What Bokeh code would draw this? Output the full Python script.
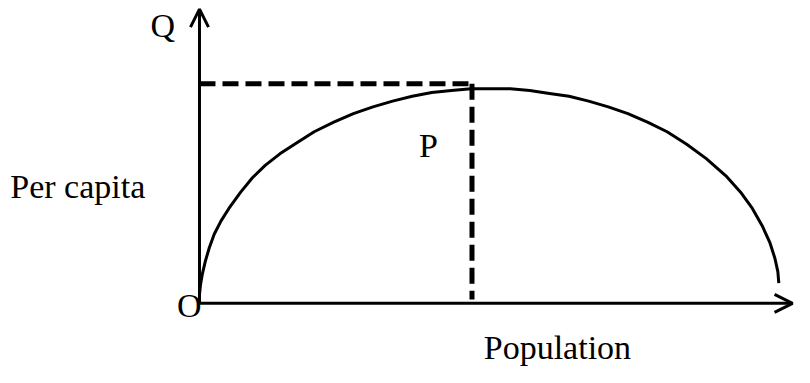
from bokeh.plotting import figure
from bokeh.models import Range1d, Arrow, OpenHead, ColumnDataSource
from bokeh.core.properties import value
from bokeh.embed import file_html
from bokeh.resources import INLINE

# Curve: per capita output vs population (arbitrary units)
population = [0, 1, 3, 6, 10, 15, 22, 30, 42, 54, 67, 82, 97, 117, 137, 157, 177,
              197, 217, 237, 257, 277, 297, 317, 337, 357, 377, 397, 417, 437, 457,
              477, 497, 517, 537, 552, 564, 574, 582, 587, 590, 591]
per_capita = [9, 19, 31, 44, 58, 72, 86, 99, 116, 131, 144, 156, 166, 179, 189, 198,
              205, 211, 216, 220, 222, 224, 224, 224, 222, 219, 216, 211, 205, 198,
              189, 179, 166, 151, 133, 116, 99, 81, 63, 47, 33, 21]

# Optimum point P
optimum_population = 278
max_per_capita = 229
dashed_floor = 4

# Axis extents
x_axis_end = 605
y_axis_end = 307

# Labels
label_text = ["Q", "O", "P", "Per capita", "Population"]
label_x = [-50, -23, 224, -193, 290]
label_y = [290, -2, 165, 122, -46]

p = figure(width=794, height=367, output_backend="svg", toolbar_location=None,
           x_range=Range1d(-203, 607), y_range=Range1d(-67, 316),
           x_axis_type=None, y_axis_type=None, min_border=0)
p.grid.visible = False
p.outline_line_color = None
p.background_fill_color = "white"
p.border_fill_color = "white"

# Axes with open arrowheads
p.add_layout(Arrow(end=OpenHead(size=18, line_width=3, line_color="black"),
                   x_start=0, y_start=0, x_end=x_axis_end, y_end=0,
                   line_width=3, line_color="black"))
p.add_layout(Arrow(end=OpenHead(size=18, line_width=3, line_color="black"),
                   x_start=0, y_start=0, x_end=0, y_end=y_axis_end,
                   line_width=3, line_color="black"))

# Curve
p.line(population, per_capita, line_width=3, line_color="black", line_join="round")

# Dashed guides
p.line([0, optimum_population], [max_per_capita, max_per_capita],
       line_width=5, line_color="black", line_dash="16 7")
p.line([optimum_population, optimum_population], [max_per_capita, dashed_floor],
       line_width=5, line_color="black", line_dash="16 7")

src = ColumnDataSource(dict(x=label_x, y=label_y, text=label_text))
p.text(x="x", y="y", text="text", source=src, text_font=value("Liberation Serif"),
       text_font_size="34px", text_align="left", text_baseline="alphabetic",
       text_color="black")

open("out.html", "w").write(file_html(p, INLINE))
